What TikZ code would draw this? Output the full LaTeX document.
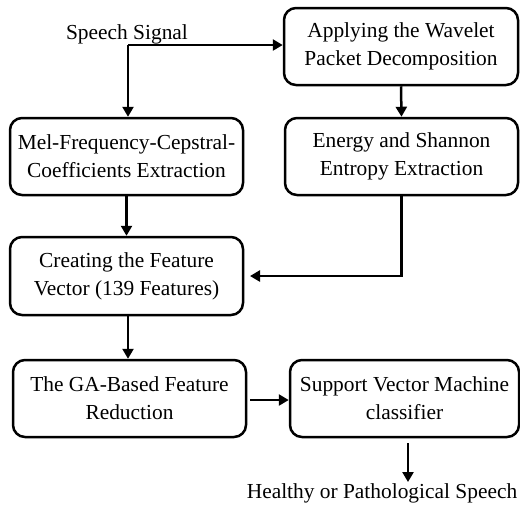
\documentclass[tikz,border=0pt]{standalone}
\usepackage{fontspec}
\setmainfont{Liberation Serif}
\usetikzlibrary{arrows.meta}
\begin{document}
\begin{tikzpicture}[x=0.5pt,y=-0.5pt,
  stepbox/.style={draw, line width=1.25pt, rounded corners=6pt, align=center,
    inner sep=0pt, font=\fontsize{10.7}{14}\selectfont},
  lbl/.style={inner sep=0pt, font=\fontsize{10.7}{14}\selectfont},
  arr/.style={line width=1.25pt, -{Triangle[length=5pt,width=5.5pt]}}]
\useasboundingbox (0,0) rectangle (520,511);

% process boxes
\node[stepbox, minimum width=117pt, minimum height=38.5pt] (wpd) at (401,46.5)
  {Applying the Wavelet\\Packet Decomposition};
\node[stepbox, minimum width=116.5pt, minimum height=38.5pt] (mfcc) at (126.5,156.5)
  {Mel-Frequency-Cepstral-\\Coefficients Extraction};
\node[stepbox, minimum width=116.5pt, minimum height=38.5pt] (ent) at (401.5,156.5)
  {Energy and Shannon\\Entropy Extraction};
\node[stepbox, minimum width=116.5pt, minimum height=39pt] (vec) at (126.5,276)
  {Creating the Feature\\Vector (139 Features)};
\node[stepbox, minimum width=116.5pt, minimum height=38.5pt] (ga) at (129.5,398.5)
  {The GA-Based Feature\\Reduction};
\node[stepbox, minimum width=114.5pt, minimum height=38.5pt] (svm) at (404.5,398.5)
  {Support Vector Machine\\classifier};

% input and output labels
\node[lbl] (sig) at (127,34) {Speech Signal};
\node[lbl] (out) at (382,493) {Healthy or Pathological Speech};

% connectors
\coordinate (split) at (128,45);
\coordinate (entin) at (250,276);
\coordinate (svmin) at (250,400);
\coordinate (svmout) at (408,443);
\coordinate (outin) at (408,482);
\draw[arr] (split) -- (wpd.west |- split);
\draw[arr] (split) -- (split |- mfcc.north);
\draw[arr] (wpd.south) -- (ent.north);
\draw[arr] (ent.south) |- (entin);
\draw[arr] (mfcc.south) -- (vec.north);
\draw[arr] (vec.south -| split) -- (split |- ga.north);
\draw[arr] (svmin) -- (svm.west |- svmin);
\draw[arr] (svmout) -- (outin);
\end{tikzpicture}
\end{document}
